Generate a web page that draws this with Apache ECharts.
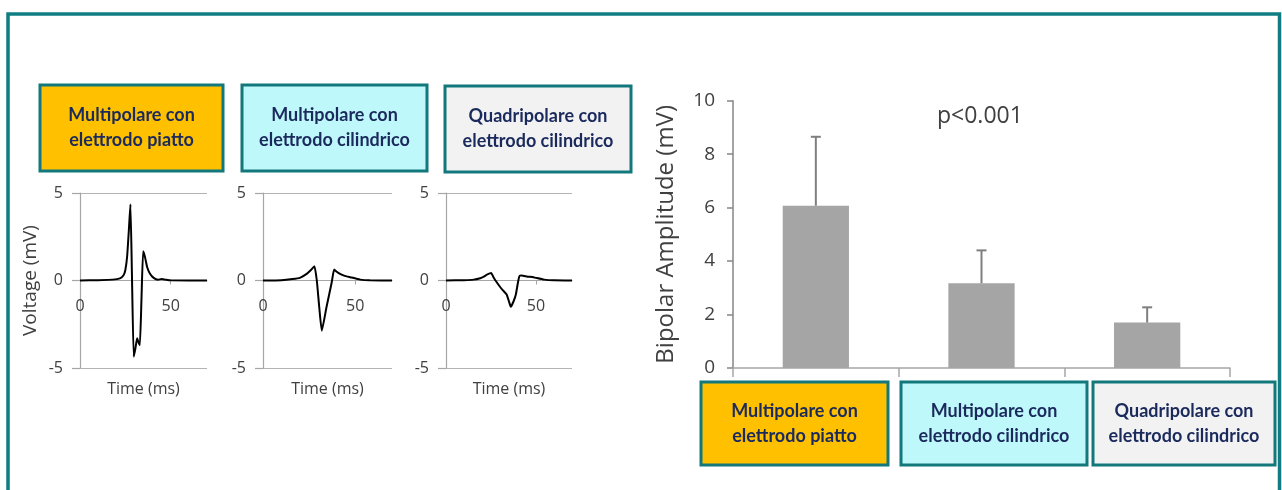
<!DOCTYPE html>
<html>
<head>
<meta charset="utf-8">
<script src="https://cdn.jsdelivr.net/npm/echarts@6/dist/echarts.min.js"></script>
<style>
html,body{margin:0;padding:0;background:#fff;}
#c{width:1282px;height:490px;}
</style>
</head>
<body>
<div id="c"></div>
<script>
// ---- Data ----
const groupLabels = ['Multipolare con\nelettrodo piatto', 'Multipolare con\nelettrodo cilindrico', 'Quadripolare con\nelettrodo cilindrico'];
const groupFills = ['#ffc000', '#bff8fb', '#f2f2f2'];
const amplitudeMean = [6.07, 3.17, 1.70];
const amplitudeUpper = [8.65, 4.40, 2.27];
const pText = 'p<0.001';
const voltTicks = [-5, 0, 5];
const timeTicks = [0, 50];

// waveforms: [time ms, voltage mV]
const wave1 = [[0,0],[10,0.02],[18,0.05],[22,0.12],[24,0.3],[25,0.6],[26,1.4],[27,3.0],[27.8,4.35],[28.6,0.5],[29.6,-4.35],[30.5,-3.9],[31.5,-3.3],[32.3,-3.55],[33,-3.7],[33.9,-1.0],[34.8,1.67],[35.8,1.35],[37,0.77],[38.5,0.4],[40.6,0.15],[43,0.05],[45,0.08],[47,0.05],[50,0.01],[70,0]];
const wave2 = [[0,0],[10,0.02],[16,0.08],[20,0.15],[23.7,0.38],[26,0.6],[27.9,0.82],[29.2,0],[30.5,-1.5],[31.9,-2.87],[34.5,-1.5],[37.3,-0.1],[38.6,0.63],[40,0.5],[41.8,0.38],[44,0.28],[47.3,0.19],[52.7,0.05],[58,0.01],[70,0]];
const wave3 = [[0,0],[10,0.02],[15.4,0.05],[19,0.13],[21,0.22],[23,0.35],[25.1,0.43],[26.3,0.2],[27.5,0],[30.3,-0.4],[32,-0.6],[33.7,-0.8],[35,-1.2],[36,-1.5],[37.5,-1.2],[38.8,-0.8],[40,-0.1],[40.8,0.25],[42,0.28],[45.3,0.22],[48,0.2],[50,0.15],[54.5,0.05],[60,0.01],[70,0]];
const waves = [wave1, wave2, wave3];

// ---- Layout ----
const smallGrids = [
  {left: 80, width: 127},
  {left: 263, width: 129},
  {left: 446, width: 126}
];
const SMALL_TOP = 193, SMALL_H = 175;
const topBoxes = [[40,85,183,86],[242,85,185,86],[445,86,186,86]];
const bottomBoxes = [[701,382,187,83],[901,382,186,83],[1093,382,182,83]];
const FONT = '"Open Sans", "Noto Sans", sans-serif';

const chart = echarts.init(document.getElementById('c'), null, {renderer: 'canvas'});

const grids = [], xAxes = [], yAxes = [], series = [];
smallGrids.forEach((g, i) => {
  grids.push({left: g.left, width: g.width, top: SMALL_TOP, height: SMALL_H});
  xAxes.push({
    type: 'value', gridIndex: i, min: 0, max: 70,
    // place the time axis on the 0 mV line (middle of the -5..5 range)
    offset: -SMALL_H / 2,
    name: 'Time (ms)', nameLocation: 'middle', nameGap: 101,
    nameTextStyle: {fontSize: 16, color: '#404040', fontFamily: FONT},
    axisLine: {onZero: false, lineStyle: {color: '#a6a6a6', width: 1.2}},
    axisTick: {show: true, length: 4, inside: false, customValues: timeTicks, lineStyle: {color: '#a6a6a6'}},
    axisLabel: {customValues: timeTicks, margin: 18, fontSize: 16, color: '#404040', fontFamily: FONT},
    splitLine: {show: false}
  });
  yAxes.push({
    type: 'value', gridIndex: i, min: -5, max: 5, interval: 5,
    name: i === 0 ? 'Voltage (mV)' : '', nameLocation: 'middle', nameGap: 40, nameRotate: 90,
    nameTextStyle: {fontSize: 19, color: '#404040', fontFamily: FONT},
    axisLine: {show: true, onZero: false, lineStyle: {color: '#a6a6a6', width: 1.2}},
    axisTick: {show: true, length: 8, lineStyle: {color: '#a6a6a6', width: 1.2}},
    axisLabel: {margin: 17, fontSize: 16, color: '#404040', fontFamily: FONT},
    splitLine: {show: true, lineStyle: {color: '#b3b3b3', width: 1.2}}
  });
  series.push({
    type: 'line', xAxisIndex: i, yAxisIndex: i, data: waves[i],
    showSymbol: false, smooth: 0.15,
    lineStyle: {color: '#000', width: 2}, z: 5
  });
});

// bar chart
grids.push({left: 733, right: 52, top: 100.7, bottom: 122});
xAxes.push({
  type: 'category', gridIndex: 3, data: groupLabels,
  axisLine: {lineStyle: {color: '#a6a6a6', width: 1.5}},
  axisTick: {show: true, length: 9, lineStyle: {color: '#a6a6a6', width: 1.5}},
  axisLabel: {show: false}
});
yAxes.push({
  type: 'value', gridIndex: 3, min: 0, max: 10, interval: 2,
  name: 'Bipolar Amplitude (mV)', nameLocation: 'middle', nameGap: 55, nameRotate: 90,
  nameTextStyle: {fontSize: 24, color: '#404040', fontFamily: FONT},
  axisLine: {show: true, lineStyle: {color: '#868686', width: 1.5}},
  axisTick: {show: true, length: 6, lineStyle: {color: '#868686', width: 1.5}},
  axisLabel: {margin: 18, fontSize: 19, color: '#404040', fontFamily: FONT},
  splitLine: {show: false}
});
series.push({
  type: 'bar', xAxisIndex: 3, yAxisIndex: 3, data: amplitudeMean,
  barWidth: '40%', itemStyle: {color: '#a5a5a5'}
});
series.push({
  type: 'custom', xAxisIndex: 3, yAxisIndex: 3,
  data: amplitudeMean.map((m, i) => [i, m, amplitudeUpper[i]]),
  renderItem: function (params, api) {
    const p0 = api.coord([api.value(0), api.value(1)]);
    const p1 = api.coord([api.value(0), api.value(2)]);
    const st = {stroke: '#7f7f7f', lineWidth: 2};
    return {type: 'group', children: [
      {type: 'line', shape: {x1: p0[0], y1: p0[1], x2: p1[0], y2: p1[1]}, style: st},
      {type: 'line', shape: {x1: p1[0] - 5, y1: p1[1], x2: p1[0] + 5, y2: p1[1]}, style: st}
    ]};
  },
  z: 3
});

// graphics: outer frame + label boxes
const graphics = [{
  type: 'rect', shape: {x: 8, y: 14, width: 1271.5, height: 500},
  style: {fill: 'none', stroke: '#0f7d82', lineWidth: 3.5}, silent: true
}];
function box(b, i) {
  graphics.push({
    type: 'rect', shape: {x: b[0], y: b[1], width: b[2], height: b[3]},
    style: {fill: groupFills[i], stroke: '#13787c', lineWidth: 3}
  });
  graphics.push({
    type: 'text', x: b[0] + b[2] / 2, y: b[1] + b[3] / 2,
    style: {text: groupLabels[i], align: 'center', verticalAlign: 'middle',
      font: 'bold 18px Lato, "Liberation Sans", sans-serif', fill: '#1b2a5c', lineHeight: 25}
  });
}
topBoxes.forEach(box);
bottomBoxes.forEach(box);

chart.setOption({
  animation: false,
  title: {text: pText, left: 937, top: 105, padding: 0,
    textStyle: {fontSize: 23, fontWeight: 'normal', color: '#404040', fontFamily: FONT}},
  grid: grids, xAxis: xAxes, yAxis: yAxes, series: series, graphic: graphics
});
</script>
</body>
</html>
